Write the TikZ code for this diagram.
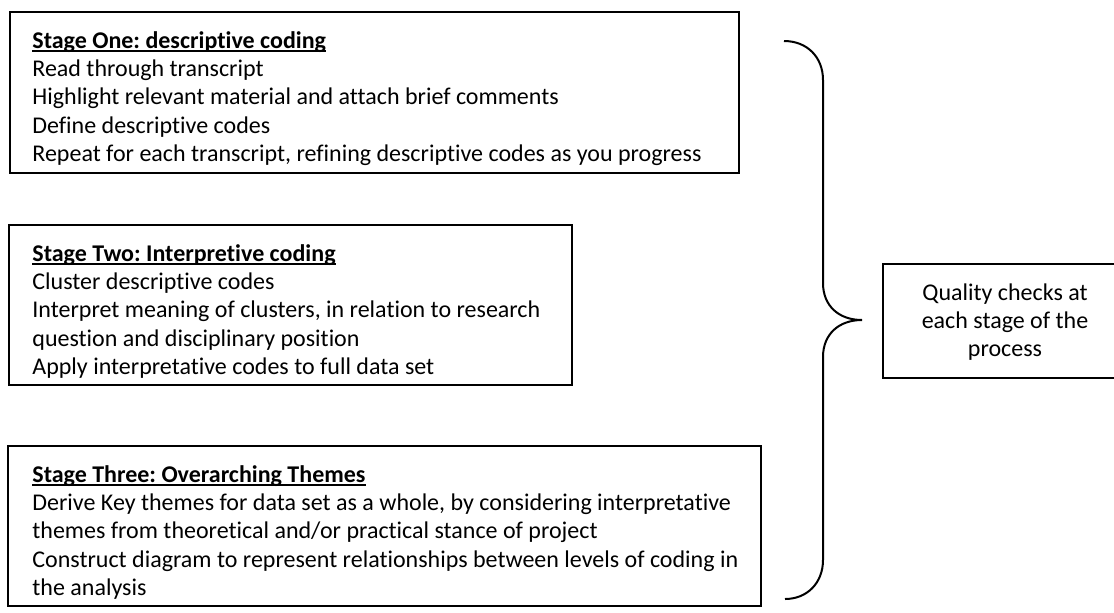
\documentclass[tikz,border=0pt]{standalone}
\usepackage{fontspec}
\setmainfont{Carlito}[Ligatures={NoCommon}]
\frenchspacing
% underline drawn just below the baseline, crossing the descenders
\newcommand\stageul[1]{\setbox0\hbox{#1}\rlap{\rule[-1.7pt]{\wd0}{0.65pt}}\box0}
\begin{document}
\begin{tikzpicture}[x=0.5pt,y=-0.5pt,
  box/.style={draw, line width=1pt, inner sep=0pt, outer sep=0pt, anchor=north west},
  body/.style={anchor=north west, inner sep=0pt, align=left, font=\fontsize{12}{14.15}\selectfont},
  note/.style={anchor=north, inner sep=0pt, align=center, font=\fontsize{12}{14.15}\selectfont},
  brace/.style={draw, line width=1pt}]
\useasboundingbox (0,0) rectangle (1114,612);

% stage boxes
\node[box, minimum width=364.5pt, minimum height=80.5pt] (s1) at (10,12) {};
\node[box, minimum width=281.5pt, minimum height=80pt] (s2) at (9,225) {};
\node[box, minimum width=376.5pt, minimum height=80pt] (s3) at (8,446) {};

\node[body] (t1) at (32,28) {\strut\stageul{\textbf{Stage One: descriptive coding}}\\
  Read through transcript\\
  Highlight relevant material and attach brief comments\\
  Define descriptive codes\\
  Repeat for each transcript, refining descriptive codes as you progress};

\node[body] (t2) at (32,241) {\strut\stageul{\textbf{Stage Two: Interpretive coding}}\\
  Cluster descriptive codes\\
  Interpret meaning of clusters, in relation to research\\
  question and disciplinary position\\
  Apply interpretative codes to full data set};

\node[body] (t3) at (32,462) {\strut\stageul{\textbf{Stage Three: Overarching Themes}}\\
  Derive Key themes for data set as a whole, by considering interpretative\\
  themes from theoretical and/or practical stance of project\\
  Construct diagram to represent relationships between levels of coding in\\
  the analysis};

% quality-check box
\node[box, minimum width=122pt, minimum height=57pt] (q) at (883,264) {};
\node[note] (qt) at (1005,280) {\strut Quality checks at\\each stage of the\\process};

% curly brace grouping the three stages
\coordinate (btop) at (784,41);
\coordinate (btip) at (862,320);
\coordinate (bbot) at (785,599);
\draw[brace] (btop) .. controls (807,41) and (823,57) .. (823,80)
  -- (823,283) .. controls (823,306) and (839,320) .. (btip)
  .. controls (839,320) and (823,334) .. (823,357)
  -- (823,560) .. controls (823,583) and (807,599) .. (bbot);
\end{tikzpicture}
\end{document}
